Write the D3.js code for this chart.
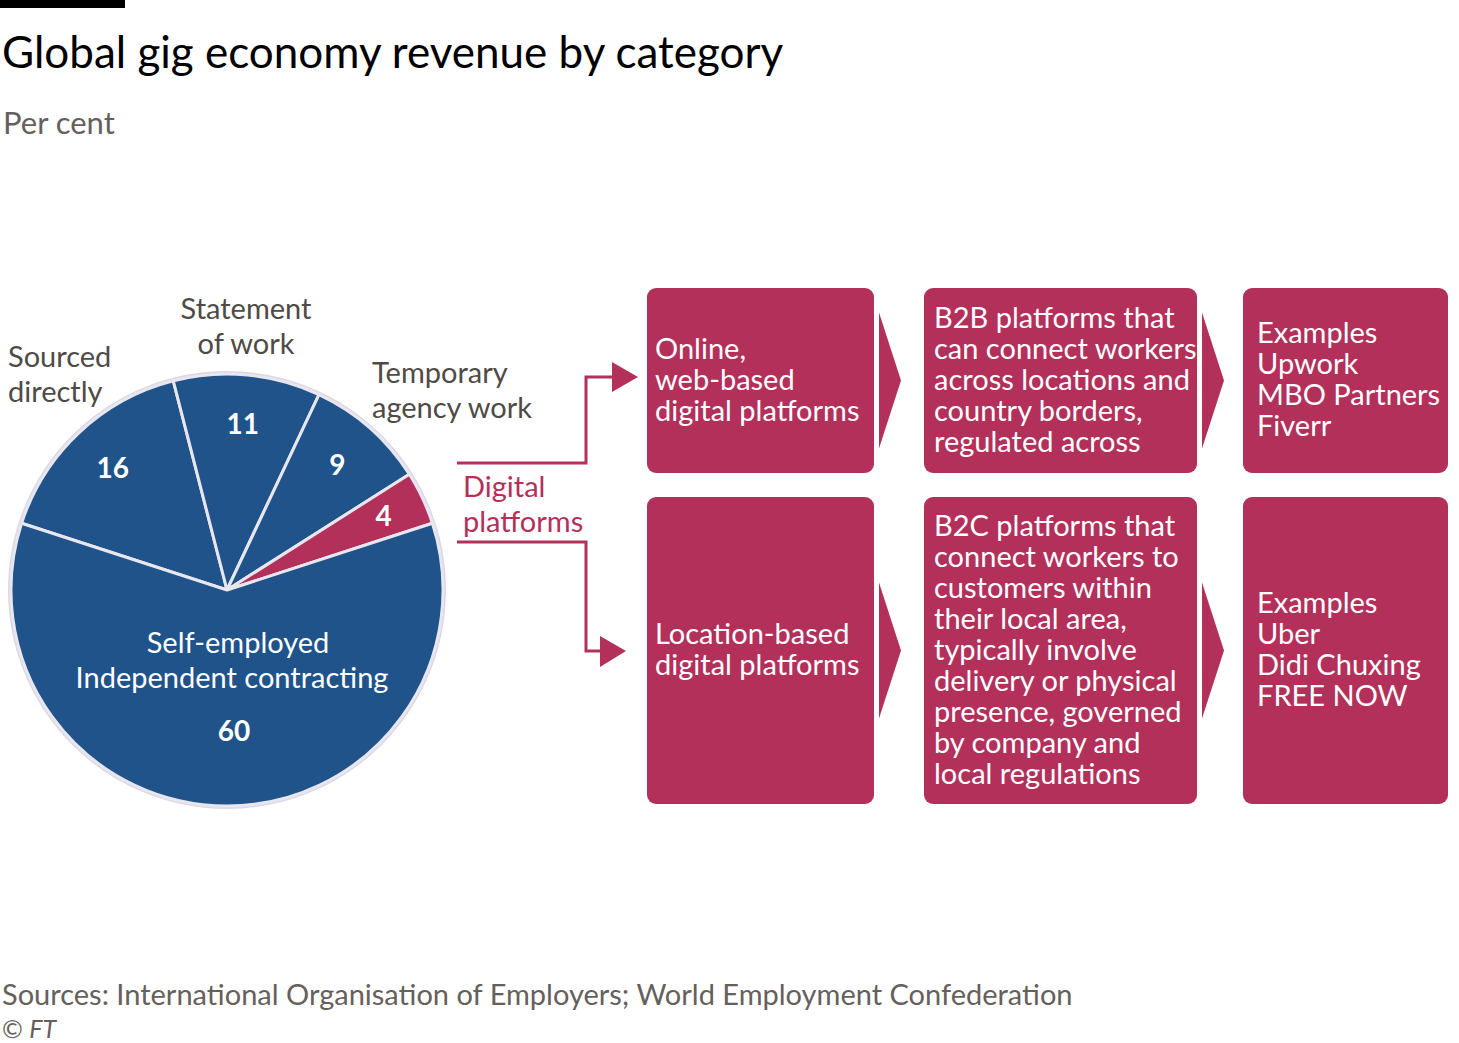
<!DOCTYPE html>
<html>
<head>
<meta charset="utf-8">
<title>Global gig economy revenue by category</title>
<script src="https://cdn.jsdelivr.net/npm/d3@7"></script>
<style>
  body { margin: 0; background: #fff; }
  svg { display: block; font-family: Lato, "Noto Sans", sans-serif; }
</style>
</head>
<body>
<svg id="chart"></svg>
<script>

// data
var categories = ["Sourced directly", "Statement of work", "Temporary agency work", "Digital platforms", "Self-employed Independent contracting"];
var values = [16, 11, 9, 4, 60];
var sliceColors = ["#1f538a", "#1f538a", "#1f538a", "#b3305b", "#1f538a"];

var catLabels = [
  {lines: ["Sourced", "directly"], x: 8, y: 367, anchor: "start", color: "#4f4a46"},
  {lines: ["Statement", "of work"], x: 246, y: 319, anchor: "middle", color: "#4f4a46"},
  {lines: ["Temporary", "agency work"], x: 372, y: 383, anchor: "start", color: "#4f4a46"},
  {lines: ["Digital", "platforms"], x: 463, y: 497, anchor: "start", color: "#b3305b"}
];

var topBoxes = [
  ["Online,", "web-based", "digital platforms"],
  ["B2B platforms that", "can connect workers", "across locations and", "country borders,", "regulated across"],
  ["Examples", "Upwork", "MBO Partners", "Fiverr"]
];
var bottomBoxes = [
  ["Location-based", "digital platforms"],
  ["B2C platforms that", "connect workers to", "customers within", "their local area,", "typically involve", "delivery or physical", "presence, governed", "by company and", "local regulations"],
  ["Examples", "Uber", "Didi Chuxing", "FREE NOW"]
];

var W = 1459, H = 1043;
var blue = "#1f538a", red = "#b3305b", grey = "#4f4a46";

var svg = d3.select("#chart").attr("width", W).attr("height", H);

// top bar, title, subtitle
svg.append("rect").attr("x", 0).attr("y", 0).attr("width", 125).attr("height", 8).attr("fill", "#000");
svg.append("text").attr("x", 2).attr("y", 68).style("font-size", "44px").attr("fill", "#000")
  .text("Global gig economy revenue by category");
svg.append("text").attr("x", 3).attr("y", 134).style("font-size", "31px").attr("fill", "#66605c")
  .text("Per cent");

// pie
var cx = 227, cy = 590, R = 216;
var toRad = Math.PI / 180;
var pie = d3.pie().sort(null).startAngle(-72 * toRad).endAngle(288 * toRad);
var arcs = pie(values);
var arc = d3.arc().innerRadius(0).outerRadius(R);

var g = svg.append("g").attr("transform", "translate(" + cx + "," + cy + ")");

g.append("circle").attr("r", R + 1).attr("fill", "none").attr("stroke", "#dcd8e6").attr("stroke-width", 4);

g.selectAll(".slice")
  .data(arcs)
  .enter().append("path")
  .attr("class", "slice")
  .attr("d", arc)
  .attr("fill", function(d, i) { return sliceColors[i]; })
  .attr("stroke", "#e8e6ef")
  .attr("stroke-width", 3)
  .attr("stroke-linejoin", "round");

// value labels
var labelArc = d3.arc().innerRadius(167).outerRadius(167);
var smallArc = d3.arc().innerRadius(173).outerRadius(173);
var bigArc = d3.arc().innerRadius(141).outerRadius(141);

g.selectAll(".val")
  .data(arcs)
  .enter().append("text")
  .attr("class", "val")
  .attr("transform", function(d, i) {
    var c = i == 4 ? bigArc.centroid(d) : (i == 3 ? smallArc.centroid(d) : labelArc.centroid(d));
    return "translate(" + (i == 4 ? c[0] + 7 : c[0]) + "," + c[1] + ")";
  })
  .attr("text-anchor", "middle")
  .attr("dy", "0.36em")
  .style("font-size", "28px")
  .style("font-weight", "bold")
  .attr("fill", "#fff")
  .text(function(d) { return d.data; });

// self-employed label inside big slice
var bc = bigArc.centroid(arcs[4]);
g.append("text").attr("x", bc[0] + 11).attr("y", bc[1] - 78).attr("text-anchor", "middle")
  .style("font-size", "29px").attr("fill", "#fff").text("Self-employed");
g.append("text").attr("x", bc[0] + 5).attr("y", bc[1] - 43).attr("text-anchor", "middle")
  .style("font-size", "29px").attr("fill", "#fff").text("Independent contracting");

// category labels
catLabels.forEach(function(l) {
  var t = svg.append("text").attr("text-anchor", l.anchor).style("font-size", "29px").attr("fill", l.color);
  l.lines.forEach(function(s, j) {
    t.append("tspan").attr("x", l.x).attr("y", l.y + j * 35).text(s);
  });
});

// connectors
var conn = svg.append("g").attr("fill", "none").attr("stroke", red).attr("stroke-width", 3);
conn.append("path").attr("d", "M457,463H586V377H615");
conn.append("path").attr("d", "M457,542H586V651H603");
svg.append("path").attr("d", "M612,362L638,377L612,392Z").attr("fill", red);
svg.append("path").attr("d", "M600,636L626,651L600,667Z").attr("fill", red);

// boxes
var colX = [647, 924, 1243], colW = [227, 273, 205];
var rowY = [288, 497], rowH = [185, 307];
var lineH = 31;

function drawRow(boxes, r) {
  boxes.forEach(function(lines, c) {
    svg.append("rect")
      .attr("x", colX[c]).attr("y", rowY[r])
      .attr("width", colW[c]).attr("height", rowH[r])
      .attr("rx", 9).attr("ry", 9)
      .attr("fill", red);
    var midY = rowY[r] + rowH[r] / 2;
    var firstY = midY - (lines.length - 1) * lineH / 2 + 9;
    var t = svg.append("text").style("font-size", "29px").attr("fill", "#fff");
    lines.forEach(function(s, j) {
      t.append("tspan").attr("x", colX[c] + (c == 0 ? 8 : (c == 1 ? 10 : 14))).attr("y", firstY + j * lineH).text(s);
    });
    // chevron after box
    if (c < boxes.length - 1) {
      var x0 = colX[c] + colW[c] + 5;
      svg.append("path")
        .attr("d", "M" + x0 + "," + (midY - 68) + "L" + (x0 + 22) + "," + midY + "L" + x0 + "," + (midY + 68) + "Z")
        .attr("fill", red);
    }
  });
}
drawRow(topBoxes, 0);
drawRow(bottomBoxes, 1);

// footer
svg.append("text").attr("x", 2).attr("y", 1005).style("font-size", "29px").attr("fill", "#66605c")
  .text("Sources: International Organisation of Employers; World Employment Confederation");
var ft = svg.append("text").attr("x", 2).attr("y", 1038).style("font-size", "25px").attr("fill", "#66605c");
ft.append("tspan").text("© ");
ft.append("tspan").style("font-style", "italic").text("FT");

</script>
</body>
</html>
